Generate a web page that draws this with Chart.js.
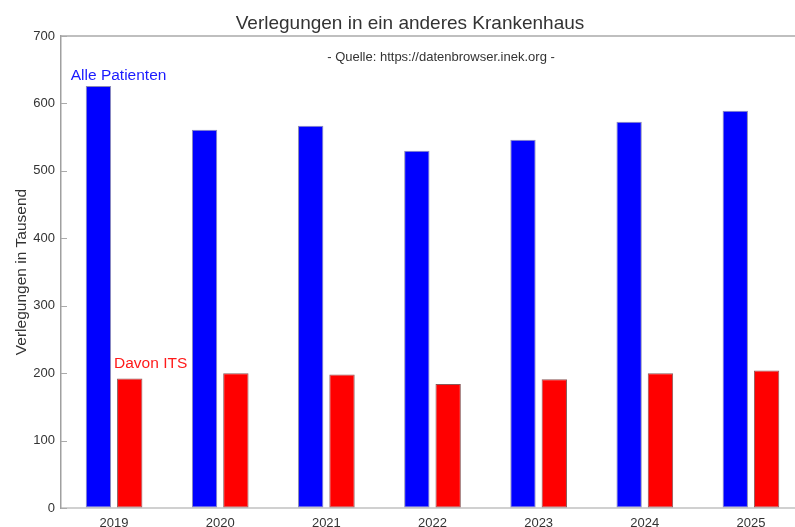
<!DOCTYPE html>
<html>
<head>
<meta charset="utf-8">
<script src="https://cdn.jsdelivr.net/npm/chart.js@4/dist/chart.umd.min.js"></script>
<style>
  html, body { margin: 0; padding: 0; background: #fff; overflow: hidden; }
  canvas { display: block; }
</style>
</head>
<body>
<canvas id="graphCanvas" width="805" height="527"></canvas>
<script>
// Werte in Tausend
var jahre = ['2019', '2020', '2021', '2022', '2023', '2024', '2025'];
var allePatienten = [626, 561, 567, 530, 546, 573, 589];
var davonITS = [192, 200, 198, 184, 191, 200, 204];
var yTicks = [0, 100, 200, 300, 400, 500, 600, 700];

var FONT = '"Liberation Sans", Arial, sans-serif';
var TEXT = '#333333';

var textPlugin = {
    id: 'texte',
    afterDraw: function (chart) {
        var ctx = chart.ctx;
        var area = chart.chartArea;
        var y = chart.scales.y;
        ctx.save();

        // obere Rahmenlinie
        ctx.strokeStyle = '#aaaaaa';
        ctx.lineWidth = 1.5;
        ctx.beginPath();
        ctx.moveTo(area.left, area.top);
        ctx.lineTo(chart.width, area.top);
        ctx.stroke();

        // Tick-Striche nach innen
        ctx.strokeStyle = '#aaaaaa';
        ctx.lineWidth = 1;
        y.ticks.forEach(function (t) {
            var py = Math.round(y.getPixelForValue(t.value)) + 0.5;
            ctx.beginPath();
            ctx.moveTo(area.left, py);
            ctx.lineTo(area.left + 6, py);
            ctx.stroke();
        });

        // Titel
        ctx.fillStyle = TEXT;
        ctx.textAlign = 'center';
        ctx.textBaseline = 'alphabetic';
        ctx.font = '19px ' + FONT;
        ctx.fillText('Verlegungen in ein anderes Krankenhaus', 410, 28.5);
        ctx.font = '13px ' + FONT;
        ctx.fillText('- Quelle: https://datenbrowser.inek.org -', 441, 61);

        // Achsentitel
        ctx.save();
        ctx.translate(26, (area.top + area.bottom) / 2);
        ctx.rotate(-Math.PI / 2);
        ctx.font = '15.5px ' + FONT;
        ctx.fillText('Verlegungen in Tausend', 0, 0);
        ctx.restore();

        // Serienbeschriftungen
        var blau = chart.getDatasetMeta(0).data[0];
        var rot = chart.getDatasetMeta(1).data[0];
        ctx.textAlign = 'left';
        ctx.font = '15.5px ' + FONT;
        ctx.fillStyle = '#1a1aff';
        ctx.fillText('Alle Patienten', blau.x - blau.width / 2 - 15, blau.y - 6);
        ctx.fillStyle = '#ff1a1a';
        ctx.fillText('Davon ITS', rot.x - rot.width / 2 - 3, rot.y - 11);

        ctx.restore();
    }
};

var chartdata = {
    labels: jahre,
    datasets: [
        {
            label: 'Alle Patienten',
            backgroundColor: '#0000ff',
            borderColor: '#8c8cb4',
            borderWidth: 1,
            borderSkipped: false,
            data: allePatienten
        },
        {
            label: 'Davon ITS',
            backgroundColor: '#ff0000',
            borderColor: '#8a5a5a',
            borderWidth: 1,
            borderSkipped: false,
            data: davonITS
        }
    ]
};

var graphTarget = document.getElementById('graphCanvas');

var barGraph = new Chart(graphTarget, {
    type: 'bar',
    data: chartdata,
    options: {
        responsive: false,
        animation: false,
        devicePixelRatio: 1,
        layout: { padding: { top: 36, right: 1, left: 0, bottom: 0 } },
        categoryPercentage: 0.59,
        barPercentage: 0.81,
        plugins: {
            legend: { display: false },
            title: { display: false },
            tooltip: { enabled: false }
        },
        scales: {
            x: {
                grid: { display: false, drawTicks: false },
                border: { display: true, color: '#d0d0d0', width: 2 },
                ticks: {
                    color: TEXT,
                    font: { family: FONT, size: 13 },
                    padding: 8,
                    maxRotation: 0
                },
                afterFit: function (scale) { scale.height = 19; }
            },
            y: {
                min: 0,
                max: 700,
                afterBuildTicks: function (scale) {
                    scale.ticks = yTicks.map(function (v) { return { value: v }; });
                },
                grid: { drawOnChartArea: false, drawTicks: false },
                border: { display: true, color: '#a0a0a0', width: 1.5 },
                ticks: {
                    color: TEXT,
                    font: { family: FONT, size: 13 },
                    padding: 6
                },
                afterFit: function (scale) { scale.width = 61; }
            }
        }
    },
    plugins: [textPlugin]
});
</script>
</body>
</html>
